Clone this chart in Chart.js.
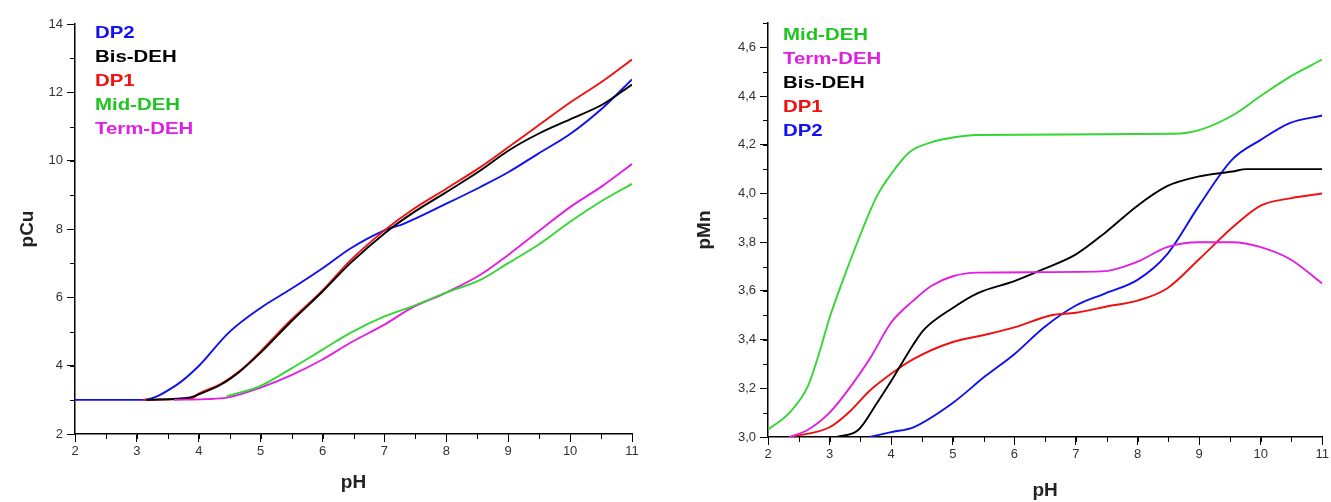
<!DOCTYPE html>
<html>
<head>
<meta charset="utf-8">
<script src="https://cdn.jsdelivr.net/npm/chart.js@4/dist/chart.umd.min.js"></script>
<style>
  body { margin: 0; background: #fff; }
  .panel { position: absolute; top: 0; height: 502px; }
  .legend { position: absolute; font-family: "Liberation Sans", Arial, sans-serif; font-weight: bold; font-size: 17px; line-height: 24px; transform: scaleX(1.2); transform-origin: left top; }
</style>
</head>
<body>
<div class="panel" style="left:0;width:660px">
  <canvas id="cuChart" width="660" height="502"></canvas>
  <div class="legend" style="left:95px;top:21px">
    <div style="color:#1010f0">DP2</div>
    <div style="color:#000">Bis-DEH</div>
    <div style="color:#f01010">DP1</div>
    <div style="color:#22c422">Mid-DEH</div>
    <div style="color:#e020e0">Term-DEH</div>
  </div>
</div>
<div class="panel" style="left:665px;width:666px">
  <canvas id="mnChart" width="666" height="502"></canvas>
  <div class="legend" style="left:118px;top:23px">
    <div style="color:#22c422">Mid-DEH</div>
    <div style="color:#e020e0">Term-DEH</div>
    <div style="color:#000">Bis-DEH</div>
    <div style="color:#f01010">DP1</div>
    <div style="color:#1010f0">DP2</div>
  </div>
</div>
<script>
// ---- pCu vs pH (left) ----
const cuDp2PH = [2, 3.1, 3.62, 4, 4.48, 5, 5.47, 6, 6.45, 7, 7.32, 8, 8.55, 9, 9.48, 10, 10.53, 11];
const cuDp2 = [3, 3, 3.41, 3.99, 4.96, 5.69, 6.22, 6.85, 7.43, 7.96, 8.16, 8.74, 9.23, 9.66, 10.2, 10.78, 11.55, 12.38];
const cuBisPH = [3.15, 3.86, 4, 4.36, 4.67, 5, 5.47, 6, 6.45, 7, 7.44, 8, 8.55, 9, 9.48, 10, 10.53, 11];
const cuBis = [3, 3.07, 3.16, 3.45, 3.84, 4.38, 5.25, 6.17, 7.0, 7.87, 8.45, 9.08, 9.71, 10.29, 10.78, 11.21, 11.65, 12.23];
const cuDp1PH = [3.1, 3.9, 4, 4.36, 4.67, 5, 5.47, 6, 6.45, 7, 7.44, 8, 8.55, 9, 9.48, 10, 10.53, 11];
const cuDp1 = [3, 3.05, 3.18, 3.47, 3.86, 4.42, 5.3, 6.2, 7.08, 7.96, 8.55, 9.18, 9.81, 10.39, 11.02, 11.7, 12.33, 12.96];
const cuMidPH = [4.45, 5, 5.47, 6, 6.45, 7, 7.44, 8, 8.55, 9, 9.48, 10, 10.53, 11];
const cuMid = [3.1, 3.41, 3.89, 4.47, 4.96, 5.44, 5.73, 6.14, 6.51, 7.0, 7.53, 8.21, 8.84, 9.32];
const cuTermPH = [3.6, 4.1, 4.48, 5, 5.47, 6, 6.45, 7, 7.44, 8, 8.55, 9, 9.48, 10, 10.53, 11];
const cuTerm = [3, 3.02, 3.07, 3.36, 3.70, 4.18, 4.67, 5.2, 5.69, 6.14, 6.66, 7.24, 7.92, 8.64, 9.27, 9.9];

// ---- pMn vs pH (right) ----
const mnMidPH = [2, 2.35, 2.65, 2.85, 3, 3.3, 3.53, 3.77, 4, 4.3, 4.65, 5, 5.4, 8.6, 9, 9.54, 10, 10.48, 11];
const mnMid = [3.03, 3.10, 3.21, 3.36, 3.49, 3.70, 3.85, 3.99, 4.08, 4.17, 4.21, 4.23, 4.24, 4.245, 4.26, 4.32, 4.40, 4.48, 4.55];
const mnTermPH = [2.35, 2.65, 3, 3.35, 3.65, 4, 4.36, 4.65, 5, 5.4, 7.42, 8, 8.48, 9, 9.54, 10, 10.48, 11];
const mnTerm = [3.0, 3.03, 3.10, 3.21, 3.32, 3.47, 3.56, 3.62, 3.66, 3.675, 3.68, 3.72, 3.78, 3.80, 3.80, 3.78, 3.73, 3.63];
const mnBisPH = [3.12, 3.47, 3.77, 4, 4.36, 4.53, 5, 5.4, 6, 6.48, 7, 7.48, 8, 8.48, 9, 9.54, 9.77, 11];
const mnBis = [3.0, 3.03, 3.14, 3.23, 3.38, 3.44, 3.53, 3.59, 3.64, 3.69, 3.75, 3.84, 3.95, 4.03, 4.07, 4.09, 4.10, 4.10];
const mnDp1PH = [2.35, 3, 3.35, 3.65, 4, 4.36, 5, 5.53, 6, 6.6, 7, 7.48, 8, 8.48, 9, 9.54, 10, 10.48, 11];
const mnDp1 = [3.0, 3.04, 3.11, 3.19, 3.26, 3.32, 3.39, 3.42, 3.45, 3.50, 3.51, 3.535, 3.56, 3.61, 3.73, 3.86, 3.95, 3.98, 4.0];
const mnDp2PH = [3.65, 4, 4.36, 5, 5.53, 6, 6.48, 7, 7.48, 8, 8.48, 9, 9.54, 10, 10.48, 11];
const mnDp2 = [3.0, 3.02, 3.04, 3.14, 3.25, 3.34, 3.45, 3.54, 3.59, 3.645, 3.75, 3.95, 4.14, 4.22, 4.29, 4.32];

const BLUE = "#1010f0", BLACK = "#000000", RED = "#f01010", GREEN = "#33d633", MAGENTA = "#e020e0";

function zip(xs, ys) {
  return xs.map((x, i) => ({ x: x, y: ys[i] }));
}

function line(label, xs, ys, color) {
  return {
    label: label,
    data: zip(xs, ys),
    borderColor: color,
    backgroundColor: color,
    borderWidth: 1.9,
    pointRadius: 0,
    cubicInterpolationMode: "monotone",
    fill: false,
  };
}

// short ticks between the labelled ones
const minorTicks = {
  id: "minorTicks",
  afterDraw(chart, args, opts) {
    const ctx = chart.ctx;
    ctx.save();
    ctx.strokeStyle = "#000";
    ctx.lineWidth = 1;
    ["x", "y"].forEach((id) => {
      const scale = chart.scales[id];
      const step = opts[id];
      const n = Math.round((scale.max - scale.min) / step);
      for (let i = 0; i <= n; i++) {
        const v = scale.min + i * step;
        const p = Math.round(scale.getPixelForValue(v)) + 0.5;
        ctx.beginPath();
        if (id === "x") {
          ctx.moveTo(p, chart.chartArea.bottom);
          ctx.lineTo(p, chart.chartArea.bottom + 5);
        } else {
          ctx.moveTo(chart.chartArea.left, p);
          ctx.lineTo(chart.chartArea.left - 5, p);
        }
        ctx.stroke();
      }
    });
    ctx.restore();
  },
};

function makeChart(canvasId, datasets, cfg) {
  const tickFont = { family: "'Liberation Sans', Arial, sans-serif", size: 13 };
  const titleFont = { family: "'Liberation Sans', Arial, sans-serif", size: 19, weight: "bold" };
  return new Chart(document.getElementById(canvasId), {
    type: "line",
    data: { datasets: datasets },
    plugins: [minorTicks],
    options: {
      responsive: false,
      animation: false,
      layout: { padding: { top: cfg.top, right: cfg.right, left: 0, bottom: 0 } },
      plugins: {
        legend: { display: false },
        tooltip: { enabled: false },
        minorTicks: { x: 0.5, y: cfg.minorY },
      },
      scales: {
        x: {
          type: "linear",
          min: 2,
          max: 11,
          afterFit: (s) => { s.height = cfg.xHeight; },
          border: { color: "#000", width: 1.5 },
          grid: { drawOnChartArea: false, color: "#000", tickLength: 8 },
          ticks: { stepSize: 1, color: "#333", font: tickFont, padding: 2 },
          title: { display: true, text: "pH", color: "#222", font: titleFont, padding: { top: 0, bottom: cfg.xTitlePad } },
        },
        y: {
          type: "linear",
          min: cfg.yMin,
          max: cfg.yMax,
          afterFit: (s) => { s.width = cfg.yWidth; },
          border: { color: "#000", width: 1.5 },
          grid: { drawOnChartArea: false, color: "#000", tickLength: 8 },
          ticks: { stepSize: cfg.yStep, includeBounds: false, color: "#333", font: tickFont, padding: 4, callback: cfg.yFmt },
          title: { display: true, text: cfg.yTitle, color: "#222", font: titleFont, padding: { top: cfg.yTitlePad, bottom: 0 } },
        },
      },
    },
  });
}

makeChart("cuChart", [
  line("Mid-DEH", cuMidPH, cuMid, GREEN),
  line("Term-DEH", cuTermPH, cuTerm, MAGENTA),
  line("Bis-DEH", cuBisPH, cuBis, BLACK),
  line("DP1", cuDp1PH, cuDp1, RED),
  line("DP2", cuDp2PH, cuDp2, BLUE),
], {
  top: 24, right: 28, xHeight: 68, yWidth: 75, xTitlePad: 8, yTitlePad: 16,
  yMin: 2, yMax: 14, yStep: 2, minorY: 1, yTitle: "pCu",
  yFmt: (v) => v,
});

makeChart("mnChart", [
  line("Mid-DEH", mnMidPH, mnMid, GREEN),
  line("Term-DEH", mnTermPH, mnTerm, MAGENTA),
  line("Bis-DEH", mnBisPH, mnBis, BLACK),
  line("DP1", mnDp1PH, mnDp1, RED),
  line("DP2", mnDp2PH, mnDp2, BLUE),
], {
  top: 23, right: 5, xHeight: 65, yWidth: 103, xTitlePad: 0, yTitlePad: 28,
  yMin: 3, yMax: 4.7, yStep: 0.2, minorY: 0.1, yTitle: "pMn",
  yFmt: (v) => v.toFixed(1).replace(".", ","),
});
</script>
</body>
</html>
